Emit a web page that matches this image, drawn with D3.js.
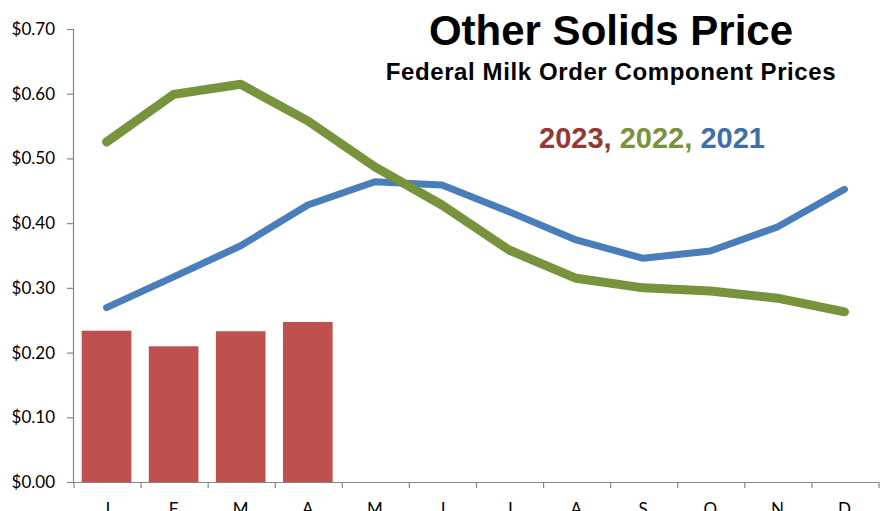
<!DOCTYPE html>
<html>
<head>
<meta charset="utf-8">
<script src="https://cdn.jsdelivr.net/npm/d3@7"></script>
<style>
  html, body { margin: 0; padding: 0; background: #fff; }
  svg { display: block; }
</style>
</head>
<body>
<svg id="chart" width="881" height="511"></svg>
<script>
// Month initials along the category axis
const months = ["J", "F", "M", "A", "M", "J", "J", "A", "S", "O", "N", "D"];

// Other solids price, $ per lb
const prices2023 = [0.2338, 0.2097, 0.2329, 0.2473];
const prices2022 = [0.5254, 0.5990, 0.6146, 0.5580, 0.4870, 0.4280, 0.3585, 0.3148, 0.3000, 0.2950, 0.2840, 0.2630];
const prices2021 = [0.2694, 0.3170, 0.3650, 0.4280, 0.4640, 0.4590, 0.4177, 0.3740, 0.3457, 0.3570, 0.3940, 0.4523];

const yTicks = [0, 0.1, 0.2, 0.3, 0.4, 0.5, 0.6, 0.7];

const colors = {
  bar2023: "#C0504D",
  line2022: "#77933C",
  line2021: "#4A7EBB",
  text2023: "#953735",
  text2022: "#77933C",
  text2021: "#3F6FA8",
  axis: "#868686"
};

const svg = d3.select("#chart");
const plotLeft = 73, plotRight = 878, plotTop = 29, plotBottom = 482;

const x = d3.scaleBand()
  .domain(d3.range(months.length))
  .range([plotLeft, plotRight])
  .paddingInner(0.26)
  .paddingOuter(0.13);

const y = d3.scaleLinear().domain([0, 0.7]).range([plotBottom, plotTop]);

const cx = i => x(i) + x.bandwidth() / 2;

// 2023 bars
svg.append("g")
  .selectAll("rect")
  .data(prices2023)
  .join("rect")
  .attr("x", (d, i) => x(i))
  .attr("width", x.bandwidth())
  .attr("y", d => y(d))
  .attr("height", d => y(0) - y(d))
  .attr("fill", colors.bar2023);

// Y axis
const yAxis = svg.append("g")
  .attr("transform", `translate(${plotLeft},0)`)
  .call(d3.axisLeft(y).tickValues(yTicks).tickFormat(d => "$" + d.toFixed(2)).tickSize(6).tickPadding(12));
yAxis.select(".domain").attr("stroke", colors.axis).attr("stroke-width", 1.2);
yAxis.selectAll(".tick line").attr("stroke", colors.axis).attr("stroke-width", 1.2);
yAxis.selectAll(".tick text")
  .attr("font-family", "Lato, 'Open Sans', sans-serif")
  .attr("font-size", 17)
  .attr("fill", "#000");

// X axis: labels centered in each month, ticks on month boundaries
const xAxis = svg.append("g")
  .attr("transform", `translate(0,${plotBottom})`)
  .call(d3.axisBottom(x).tickSize(0).tickPadding(21).tickFormat(i => months[i]));
xAxis.select(".domain").attr("stroke", colors.axis).attr("stroke-width", 1.2);
xAxis.selectAll(".tick text")
  .attr("font-family", "Lato, 'Open Sans', sans-serif")
  .attr("font-size", 17)
  .attr("fill", "#000");
xAxis.append("g")
  .selectAll("line")
  .data(d3.range(months.length + 1))
  .join("line")
  .attr("x1", i => plotLeft + 1 + x.step() * i)
  .attr("x2", i => plotLeft + 1 + x.step() * i)
  .attr("y1", 0)
  .attr("y2", 6)
  .attr("stroke", colors.axis)
  .attr("stroke-width", 1.2);

// Lines for 2021 and 2022
const line = d3.line().x((d, i) => cx(i)).y(d => y(d));

svg.append("path")
  .datum(prices2021)
  .attr("d", line)
  .attr("fill", "none")
  .attr("stroke", colors.line2021)
  .attr("stroke-width", 7)
  .attr("stroke-linecap", "round")
  .attr("stroke-linejoin", "round");

svg.append("path")
  .datum(prices2022)
  .attr("d", line)
  .attr("fill", "none")
  .attr("stroke", colors.line2022)
  .attr("stroke-width", 9)
  .attr("stroke-linecap", "round")
  .attr("stroke-linejoin", "round");

// Titles
svg.append("text")
  .attr("x", 611).attr("y", 45)
  .attr("text-anchor", "middle")
  .attr("font-family", "'Liberation Sans', Arial, sans-serif")
  .attr("font-weight", "bold")
  .attr("font-size", 42)
  .attr("fill", "#000")
  .text("Other Solids Price");

svg.append("text")
  .attr("x", 611).attr("y", 80)
  .attr("text-anchor", "middle")
  .attr("font-family", "'Liberation Sans', Arial, sans-serif")
  .attr("font-weight", "bold")
  .attr("font-size", 24)
  .attr("letter-spacing", 0.6)
  .attr("fill", "#000")
  .text("Federal Milk Order Component Prices");

// Year key
const key = svg.append("text")
  .attr("x", 652).attr("y", 148)
  .attr("text-anchor", "middle")
  .attr("font-family", "'Liberation Sans', Arial, sans-serif")
  .attr("font-weight", "bold")
  .attr("font-size", 29);
key.append("tspan").attr("fill", colors.text2023).text("2023, ");
key.append("tspan").attr("fill", colors.text2022).text("2022, ");
key.append("tspan").attr("fill", colors.text2021).text("2021");
</script>
</body>
</html>
